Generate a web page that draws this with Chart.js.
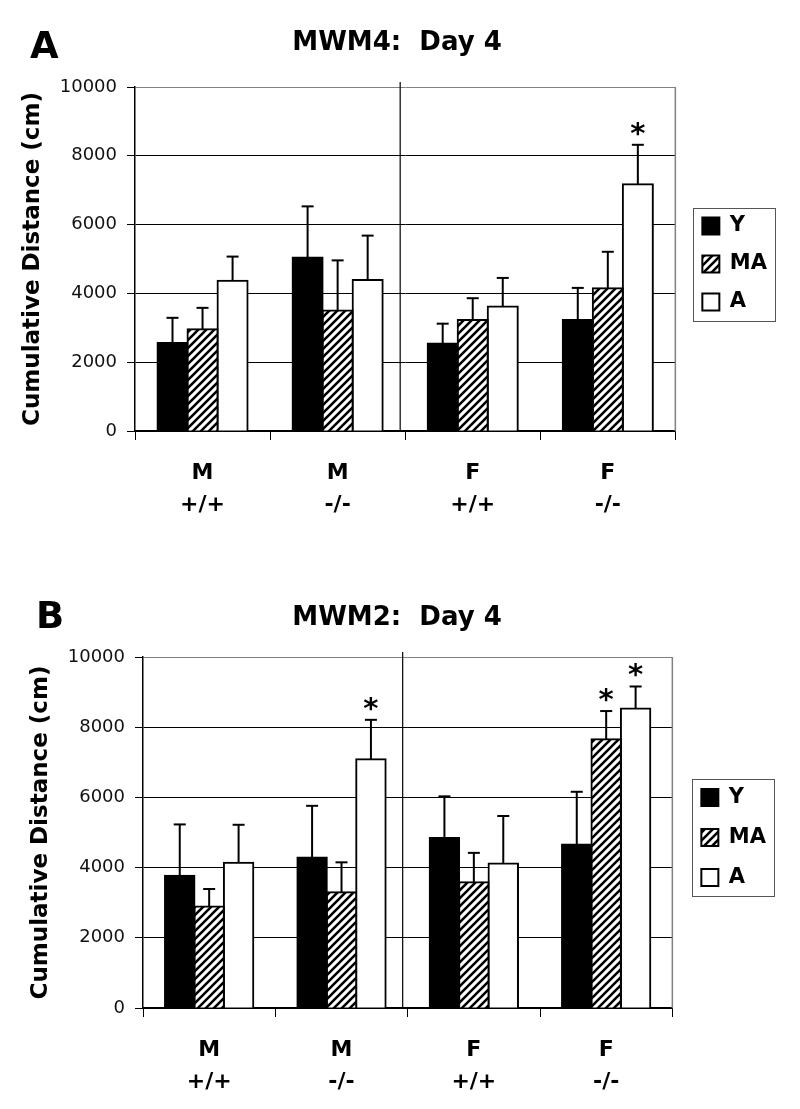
<!DOCTYPE html>
<html>
<head>
<meta charset="utf-8">
<script src="https://cdn.jsdelivr.net/npm/chart.js@4.4.0/dist/chart.umd.min.js"></script>
<style>
  body { margin: 0; background: #fff; }
  canvas { position: absolute; left: 0; }
  #chartA { top: 0; }
  #chartB { top: 550px; }
</style>
</head>
<body>
<canvas id="chartA" width="800" height="550"></canvas>
<canvas id="chartB" width="800" height="559"></canvas>
<script>
const groups = [['M', '+/+'], ['M', '-/-'], ['F', '+/+'], ['F', '-/-']];
const seriesNames = ['Y', 'MA', 'A'];
const yTicks = [0, 2000, 4000, 6000, 8000, 10000];

// MWM4: day 4
const mwm4Y = [2560, 5040, 2540, 3230];
const mwm4YErr = [730, 1490, 580, 930];
const mwm4MA = [2960, 3500, 3230, 4150];
const mwm4MAErr = [620, 1460, 630, 1060];
const mwm4A = [4370, 4390, 3620, 7170];
const mwm4AErr = [700, 1290, 830, 1150];
const mwm4StarY = [0, 0, 0, 0];
const mwm4StarMA = [0, 0, 0, 0];
const mwm4StarA = [0, 0, 0, 1];

// MWM2: day 4
const mwm2Y = [3770, 4290, 4840, 4660];
const mwm2YErr = [1460, 1470, 1190, 1500];
const mwm2MA = [2890, 3300, 3580, 7660];
const mwm2MAErr = [500, 850, 840, 800];
const mwm2A = [4140, 7090, 4120, 8530];
const mwm2AErr = [1080, 1120, 1350, 630];
const mwm2StarY = [0, 0, 0, 0];
const mwm2StarMA = [0, 0, 0, 1];
const mwm2StarA = [0, 1, 0, 1];

const FONT = 'DejaVu Sans';

function hatch() {
  const c = document.createElement('canvas');
  c.width = 8;
  c.height = 8;
  const g = c.getContext('2d');
  g.fillStyle = '#fff';
  g.fillRect(0, 0, 8, 8);
  g.strokeStyle = '#000';
  g.lineWidth = 2.6;
  g.beginPath();
  g.moveTo(-2, 10); g.lineTo(10, -2);
  g.moveTo(-2, 2); g.lineTo(2, -2);
  g.moveTo(6, 10); g.lineTo(10, 6);
  g.stroke();
  return g.createPattern(c, 'repeat');
}
const hatchFill = hatch();

function seg(ctx, x1, y1, x2, y2) {
  ctx.beginPath();
  ctx.moveTo(x1, y1);
  ctx.lineTo(x2, y2);
  ctx.stroke();
}

// frame on the right + black divider between male and female groups
const backLines = {
  id: 'backLines',
  beforeDatasetsDraw(chart) {
    const ctx = chart.ctx, area = chart.chartArea, x = chart.scales.x;
    ctx.save();
    ctx.strokeStyle = '#808080';
    ctx.lineWidth = 1.5;
    seg(ctx, area.right, area.top, area.right, area.bottom);
    ctx.strokeStyle = '#000';
    ctx.lineWidth = 1.2;
    const sx = (x.getPixelForValue(1) + x.getPixelForValue(2)) / 2 - 5;
    seg(ctx, sx, area.top - 5, sx, area.bottom);
    ctx.restore();
  }
};

// error bars, stars, legend box, panel letter and title
const extras = {
  id: 'extras',
  afterDraw(chart, args, opts) {
    const ctx = chart.ctx, y = chart.scales.y;
    ctx.save();
    ctx.strokeStyle = '#000';
    ctx.fillStyle = '#000';
    ctx.lineWidth = 2;
    chart.data.datasets.forEach((ds, i) => {
      chart.getDatasetMeta(i).data.forEach((bar, j) => {
        const top = y.getPixelForValue(ds.data[j] + ds.err[j]);
        seg(ctx, bar.x, bar.y, bar.x, top);
        seg(ctx, bar.x - 6, top, bar.x + 6, top);
        if (ds.star[j]) {
          ctx.font = 'bold 29px "' + FONT + '"';
          ctx.textAlign = 'center';
          ctx.textBaseline = 'alphabetic';
          ctx.fillText('*', bar.x, top - 2);
        }
      });
    });

    const hb = chart.legend.legendHitBoxes;
    if (hb && hb.length) {
      const l = Math.min(...hb.map(h => h.left)) - 9;
      const r = Math.max(...hb.map(h => h.left + h.width)) + 8;
      const t = hb[0].top - 8;
      const b = hb[hb.length - 1].top + hb[hb.length - 1].height + 8;
      ctx.strokeStyle = '#555';
      ctx.lineWidth = 1;
      ctx.strokeRect(Math.round(l) + 0.5, Math.round(t) + 0.5, Math.round(r - l), Math.round(b - t));
    }

    ctx.fillStyle = '#000';
    ctx.textBaseline = 'alphabetic';
    ctx.textAlign = 'left';
    ctx.font = 'bold 37px "' + FONT + '"';
    ctx.fillText(opts.letter, opts.letterX, opts.letterY);
    ctx.textAlign = 'center';
    ctx.font = 'bold 26px "' + FONT + '"';
    ctx.fillText(opts.title, opts.titleX, opts.titleY);
    ctx.restore();
  }
};

function makeChart(id, vals, errs, stars, lay) {
  const fills = ['#000', hatchFill, '#fff'];
  const datasets = seriesNames.map((name, i) => ({
    label: name,
    data: vals[i],
    err: errs[i],
    star: stars[i],
    backgroundColor: fills[i],
    borderColor: '#000',
    borderWidth: 2,
    inflateAmount: 1,
    categoryPercentage: 0.667,
    barPercentage: 1.0
  }));
  return new Chart(document.getElementById(id).getContext('2d'), {
    type: 'bar',
    data: { labels: groups, datasets: datasets },
    plugins: [backLines, extras],
    options: {
      responsive: false,
      animation: false,
      layout: { autoPadding: false, padding: { top: lay.top, left: 0, right: lay.right, bottom: 0 } },
      plugins: {
        tooltip: { enabled: false },
        legend: {
          position: 'right',
          fullSize: false,
          title: { display: true, text: ' ', padding: 0, font: { size: 8, lineHeight: 1.25 } },
          labels: {
            boxWidth: 17,
            boxHeight: 17,
            padding: lay.legendPad,
            color: '#000',
            font: { family: FONT, size: 21, weight: 'bold' }
          }
        },
        extras: {
          letter: lay.letter, letterX: lay.letterX, letterY: lay.letterY,
          title: lay.title, titleX: 397, titleY: lay.titleY
        }
      },
      scales: {
        x: {
          grid: { display: true, drawOnChartArea: false, tickLength: 9, color: '#000', offset: true },
          border: { color: '#000', width: 1.5 },
          ticks: {
            color: '#000',
            padding: 17,
            maxRotation: 0,
            autoSkip: false,
            font: { family: FONT, size: 22, weight: 'bold', lineHeight: 1.45 }
          },
          afterFit(s) { s.height = lay.xHeight; }
        },
        y: {
          min: 0,
          max: 10000,
          afterBuildTicks(s) { s.ticks = yTicks.map(v => ({ value: v })); },
          grid: {
            color: c => (c.tick && c.tick.value === 10000 ? '#808080' : '#000'),
            tickColor: '#000',
            tickLength: 8,
            lineWidth: 1
          },
          border: { color: '#000', width: 1.5 },
          ticks: {
            color: '#111',
            padding: 10,
            font: { family: FONT, size: 18 },
            callback: v => String(v)
          },
          title: {
            display: true,
            text: 'Cumulative Distance (cm)',
            color: '#000',
            font: { family: FONT, size: 23, weight: 'bold' },
            padding: { top: lay.titlePad, bottom: 0 }
          },
          afterFit(s) { s.width = lay.yWidth; }
        },
        gap: {
          type: 'linear',
          position: 'right',
          display: true,
          grid: { display: false, drawTicks: false },
          border: { display: false },
          ticks: { display: false },
          afterFit(s) { s.width = 10; }
        }
      }
    }
  });
}

makeChart('chartA',
  [mwm4Y, mwm4MA, mwm4A],
  [mwm4YErr, mwm4MAErr, mwm4AErr],
  [mwm4StarY, mwm4StarMA, mwm4StarA],
  { top: 87, right: 23, legendPad: 17, xHeight: 119, yWidth: 135, titlePad: 19,
    letter: 'A', letterX: 30, letterY: 58, title: 'MWM4:  Day 4', titleY: 50 });

makeChart('chartB',
  [mwm2Y, mwm2MA, mwm2A],
  [mwm2YErr, mwm2MAErr, mwm2AErr],
  [mwm2StarY, mwm2StarMA, mwm2StarA],
  { top: 107, right: 24, legendPad: 19, xHeight: 101, yWidth: 143, titlePad: 27,
    letter: 'B', letterX: 36, letterY: 78, title: 'MWM2:  Day 4', titleY: 75 });
</script>
</body>
</html>
